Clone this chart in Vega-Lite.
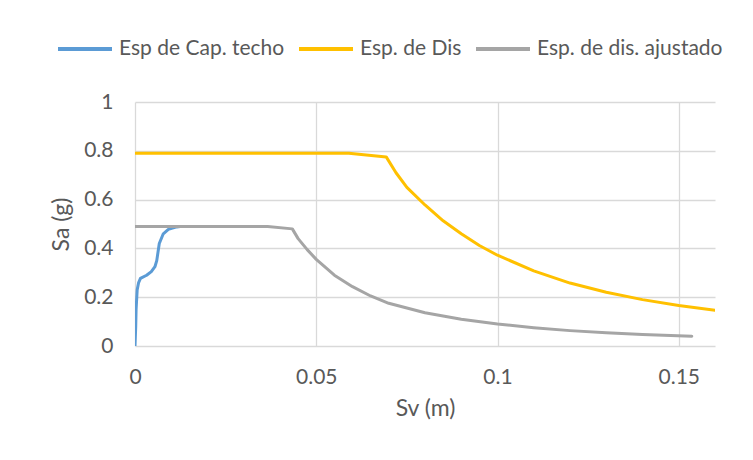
{
  "$schema": "https://vega.github.io/schema/vega-lite/v6.json",
  "autosize": "none",
  "width": 580,
  "height": 244,
  "padding": {"left": 135, "top": 102, "right": 38, "bottom": 114},
  "background": "white",
  "config": {
    "view": {"stroke": null},
    "font": "Lato",
    "axis": {
      "labelFont": "Lato",
      "titleFont": "Lato",
      "labelColor": "#595959",
      "titleColor": "#595959",
      "labelFontSize": 21,
      "titleFontSize": 23,
      "titleFontWeight": "normal",
      "gridColor": "#D9D9D9",
      "gridWidth": 1.3,
      "domain": false,
      "ticks": false,
      "labelFlush": false
    },
    "legend": {
      "labelFont": "Lato",
      "labelFontSize": 21,
      "labelColor": "#595959",
      "labelLimit": 400
    }
  },
  "data": {
    "values": [
      {"series": "Esp de Cap. techo", "sv": 0, "sa": 0},
      {"series": "Esp de Cap. techo", "sv": 0.0002, "sa": 0.08},
      {"series": "Esp de Cap. techo", "sv": 0.0003, "sa": 0.15},
      {"series": "Esp de Cap. techo", "sv": 0.0006, "sa": 0.23},
      {"series": "Esp de Cap. techo", "sv": 0.001, "sa": 0.26},
      {"series": "Esp de Cap. techo", "sv": 0.0015, "sa": 0.277},
      {"series": "Esp de Cap. techo", "sv": 0.0032, "sa": 0.29},
      {"series": "Esp de Cap. techo", "sv": 0.0045, "sa": 0.305},
      {"series": "Esp de Cap. techo", "sv": 0.0055, "sa": 0.325},
      {"series": "Esp de Cap. techo", "sv": 0.006, "sa": 0.35},
      {"series": "Esp de Cap. techo", "sv": 0.0067, "sa": 0.42},
      {"series": "Esp de Cap. techo", "sv": 0.0078, "sa": 0.46},
      {"series": "Esp de Cap. techo", "sv": 0.0092, "sa": 0.478},
      {"series": "Esp de Cap. techo", "sv": 0.0115, "sa": 0.488},
      {"series": "Esp de Cap. techo", "sv": 0.0125, "sa": 0.49},

      {"series": "Esp. de Dis", "sv": 0, "sa": 0.79},
      {"series": "Esp. de Dis", "sv": 0.059, "sa": 0.79},
      {"series": "Esp. de Dis", "sv": 0.0693, "sa": 0.775},
      {"series": "Esp. de Dis", "sv": 0.072, "sa": 0.71},
      {"series": "Esp. de Dis", "sv": 0.075, "sa": 0.65},
      {"series": "Esp. de Dis", "sv": 0.08, "sa": 0.578},
      {"series": "Esp. de Dis", "sv": 0.085, "sa": 0.513},
      {"series": "Esp. de Dis", "sv": 0.09, "sa": 0.46},
      {"series": "Esp. de Dis", "sv": 0.095, "sa": 0.412},
      {"series": "Esp. de Dis", "sv": 0.1, "sa": 0.372},
      {"series": "Esp. de Dis", "sv": 0.11, "sa": 0.308},
      {"series": "Esp. de Dis", "sv": 0.12, "sa": 0.258},
      {"series": "Esp. de Dis", "sv": 0.13, "sa": 0.22},
      {"series": "Esp. de Dis", "sv": 0.14, "sa": 0.19},
      {"series": "Esp. de Dis", "sv": 0.15, "sa": 0.166},
      {"series": "Esp. de Dis", "sv": 0.16, "sa": 0.146},

      {"series": "Esp. de dis. ajustado", "sv": 0, "sa": 0.49},
      {"series": "Esp. de dis. ajustado", "sv": 0.0366, "sa": 0.49},
      {"series": "Esp. de dis. ajustado", "sv": 0.0434, "sa": 0.48},
      {"series": "Esp. de dis. ajustado", "sv": 0.045, "sa": 0.44},
      {"series": "Esp. de dis. ajustado", "sv": 0.0475, "sa": 0.395},
      {"series": "Esp. de dis. ajustado", "sv": 0.05, "sa": 0.355},
      {"series": "Esp. de dis. ajustado", "sv": 0.055, "sa": 0.29},
      {"series": "Esp. de dis. ajustado", "sv": 0.06, "sa": 0.243},
      {"series": "Esp. de dis. ajustado", "sv": 0.065, "sa": 0.205},
      {"series": "Esp. de dis. ajustado", "sv": 0.07, "sa": 0.175},
      {"series": "Esp. de dis. ajustado", "sv": 0.08, "sa": 0.136},
      {"series": "Esp. de dis. ajustado", "sv": 0.09, "sa": 0.11},
      {"series": "Esp. de dis. ajustado", "sv": 0.1, "sa": 0.09},
      {"series": "Esp. de dis. ajustado", "sv": 0.11, "sa": 0.075},
      {"series": "Esp. de dis. ajustado", "sv": 0.12, "sa": 0.063},
      {"series": "Esp. de dis. ajustado", "sv": 0.13, "sa": 0.054},
      {"series": "Esp. de dis. ajustado", "sv": 0.14, "sa": 0.047},
      {"series": "Esp. de dis. ajustado", "sv": 0.1536, "sa": 0.04}
    ]
  },
  "mark": {"type": "line", "strokeWidth": 3, "strokeCap": "round", "strokeJoin": "round", "clip": true},
  "encoding": {
    "x": {
      "field": "sv", "type": "quantitative",
      "scale": {"domain": [0, 0.16], "nice": false},
      "axis": {"values": [0, 0.05, 0.1, 0.15], "format": "~g", "title": "Sv (m)", "labelPadding": 20, "titlePadding": 10}
    },
    "y": {
      "field": "sa", "type": "quantitative",
      "scale": {"domain": [0, 1], "nice": false},
      "axis": {"values": [0, 0.2, 0.4, 0.6, 0.8, 1], "format": "~g", "title": "Sa (g)", "labelPadding": 22, "titlePadding": 10}
    },
    "color": {
      "field": "series", "type": "nominal",
      "scale": {"domain": ["Esp de Cap. techo", "Esp. de Dis", "Esp. de dis. ajustado"], "range": ["#5B9BD5", "#FFC000", "#A5A5A5"]},
      "legend": {
        "title": null,
        "orient": "none",
        "direction": "horizontal",
        "legendX": -79,
        "legendY": -82,
        "symbolType": "stroke",
        "symbolSize": 2916,
        "symbolStrokeWidth": 4,
        "labelOffset": 5,
        "columnPadding": 6
      }
    }
  }
}
